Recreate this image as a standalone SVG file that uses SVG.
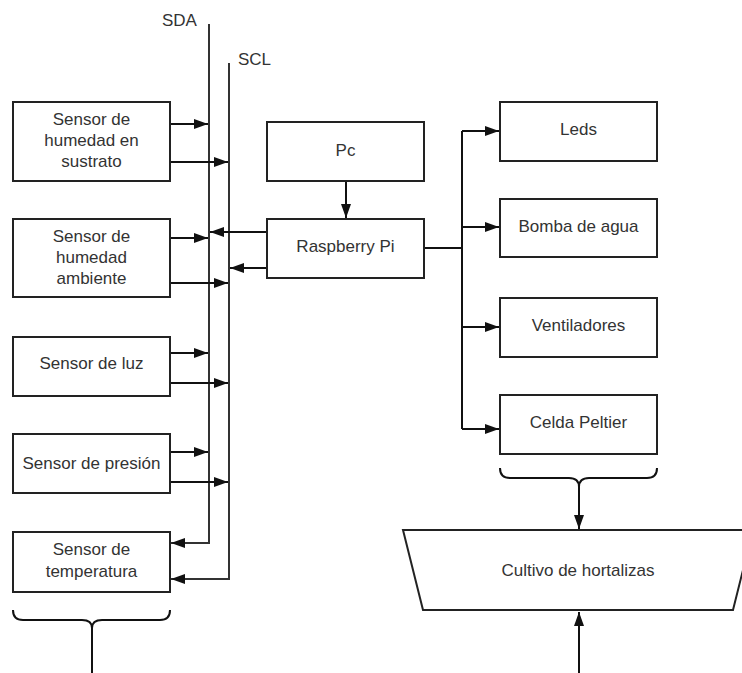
<svg xmlns="http://www.w3.org/2000/svg" width="742" height="673" viewBox="0 0 742 673">
<style>
.box{fill:#fff;stroke:#222;stroke-width:2}
.t{font-family:"Liberation Sans",Arial,sans-serif;font-size:17px;fill:#333;text-anchor:middle}
.lbl{font-family:"Liberation Sans",Arial,sans-serif;font-size:17px;fill:#333}
.c{fill:none;stroke:#111;stroke-width:2}
.bus{fill:none;stroke:#333;stroke-width:2}
</style>
<defs>
<marker id="ah" markerUnits="userSpaceOnUse" markerWidth="15" markerHeight="11" refX="14" refY="5" orient="auto">
<path d="M0,0 L14,5 L0,10 z" fill="#111"/>
</marker>
</defs>
<rect width="742" height="673" fill="#fff"/>
<g id="labels">
<text class="lbl" x="162" y="26">SDA</text>
<text class="lbl" x="238" y="65">SCL</text>
</g>
<g id="connectors">
<path class="bus" d="M209,24 V543 H171" marker-end="url(#ah)"/>
<path class="bus" d="M229,63 V579 H171" marker-end="url(#ah)"/>
<path class="c" d="M170,124 H208" marker-end="url(#ah)"/>
<path class="c" d="M170,162 H228" marker-end="url(#ah)"/>
<path class="c" d="M170,238 H208" marker-end="url(#ah)"/>
<path class="c" d="M170,283 H228" marker-end="url(#ah)"/>
<path class="c" d="M170,353 H208" marker-end="url(#ah)"/>
<path class="c" d="M170,383 H228" marker-end="url(#ah)"/>
<path class="c" d="M170,452 H208" marker-end="url(#ah)"/>
<path class="c" d="M170,482 H228" marker-end="url(#ah)"/>
<path class="c" d="M267,232 H210" marker-end="url(#ah)"/>
<path class="c" d="M267,268 H230" marker-end="url(#ah)"/>
<path class="c" d="M346,181 V218" marker-end="url(#ah)"/>
<path class="c" d="M424,248 H462"/>
<path class="c" d="M462,131 V429"/>
<path class="c" d="M462,131 H499" marker-end="url(#ah)"/>
<path class="c" d="M462,227 H499" marker-end="url(#ah)"/>
<path class="c" d="M462,327 H499" marker-end="url(#ah)"/>
<path class="c" d="M462,429 H499" marker-end="url(#ah)"/>
<path class="c" d="M13,610 Q13,620 23,620 H82 Q92,620 92,628 Q92,620 102,620 H160 Q170,620 170,610"/>
<path class="c" d="M92,628 V673"/>
<path class="c" d="M500,468 Q500,478 510,478 H569 Q579,478 579,487 Q579,478 589,478 H647 Q657,478 657,468"/>
<path class="c" d="M579,487 V529" marker-end="url(#ah)"/>
<path class="c" d="M579,673 V612" marker-end="url(#ah)"/>
</g>
<g id="sensor-sustrato">
<rect class="box" x="13" y="102" width="157" height="79"/>
<text class="t" x="91.5" y="125">Sensor de</text>
<text class="t" x="91.5" y="146">humedad en</text>
<text class="t" x="91.5" y="167">sustrato</text>
</g>
<g id="sensor-ambiente">
<rect class="box" x="13" y="219" width="157" height="78"/>
<text class="t" x="91.5" y="242">Sensor de</text>
<text class="t" x="91.5" y="263">humedad</text>
<text class="t" x="91.5" y="284">ambiente</text>
</g>
<g id="sensor-luz">
<rect class="box" x="13" y="337" width="157" height="59"/>
<text class="t" x="91.5" y="369">Sensor de luz</text>
</g>
<g id="sensor-presion">
<rect class="box" x="13" y="434" width="157" height="59"/>
<text class="t" x="91.5" y="469">Sensor de presión</text>
</g>
<g id="sensor-temperatura">
<rect class="box" x="13" y="532" width="157" height="60"/>
<text class="t" x="91.5" y="555">Sensor de</text>
<text class="t" x="91.5" y="577">temperatura</text>
</g>
<g id="pc">
<rect class="box" x="267" y="122" width="157" height="59"/>
<text class="t" x="345.5" y="156">Pc</text>
</g>
<g id="raspberry">
<rect class="box" x="267" y="219" width="157" height="59"/>
<text class="t" x="345.5" y="252">Raspberry Pi</text>
</g>
<g id="leds">
<rect class="box" x="500" y="102" width="157" height="59"/>
<text class="t" x="578.5" y="135">Leds</text>
</g>
<g id="bomba">
<rect class="box" x="500" y="199" width="157" height="58"/>
<text class="t" x="578.5" y="232">Bomba de agua</text>
</g>
<g id="ventiladores">
<rect class="box" x="500" y="298" width="157" height="59"/>
<text class="t" x="578.5" y="331">Ventiladores</text>
</g>
<g id="peltier">
<rect class="box" x="500" y="395" width="157" height="59"/>
<text class="t" x="578.5" y="428">Celda Peltier</text>
</g>
<g id="cultivo">
<polygon class="box" points="403,530 753,530 733,610 423,610"/>
<text class="t" x="578" y="576">Cultivo de hortalizas</text>
</g>
</svg>
